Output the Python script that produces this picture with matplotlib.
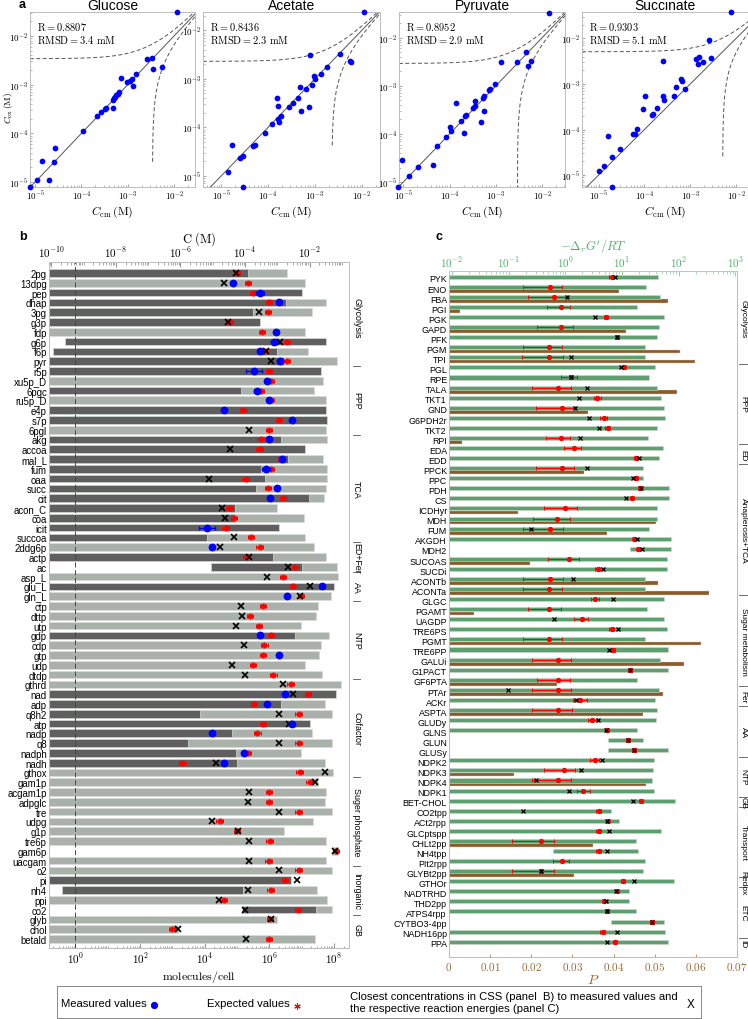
import numpy as np
import matplotlib
matplotlib.use('Agg')
import matplotlib.pyplot as plt
import matplotlib.transforms as mtransforms
from matplotlib.ticker import FixedLocator, LogLocator, NullFormatter, FuncFormatter

plt.rcParams['mathtext.fontset'] = 'cm'
plt.rcParams['font.family'] = ['Liberation Sans', 'DejaVu Sans']

nan = np.nan

# ---------------- panel a data (log10 of concentration in M) ----------------
glc_cm = [-1.93, -2.58, -2.48, -2.45, -2.27, -2.82, -3.14, -3.01, -2.96, -2.91, -2.88, -3.20, -3.22, -3.25, -3.28,
          -3.30, -3.32, -3.31, -3.48, -3.50, -3.58, -3.67, -3.97, -4.58, -4.59, -4.85, -4.69, -4.96, -5.11]
glc_ex = [-1.52, -2.47, -2.45, -2.68, -2.63, -2.78, -2.86, -2.94, -2.93, -2.89, -3.03, -3.16, -3.19, -3.22, -3.25,
          -3.28, -3.31, -3.48, -3.47, -3.50, -3.57, -3.65, -3.95, -4.30, -4.59, -4.57, -4.95, -4.96, -5.10]
ace_cm = [-1.96, -2.46, -2.26, -2.24, -3.11, -2.74, -2.88, -3.01, -3.00, -3.07, -3.18, -3.32, -3.36, -3.46, -3.55,
          -3.12, -3.29, -3.82, -3.79, -3.73, -3.79, -3.76, -3.91, -4.07, -4.29, -4.32, -4.76, -4.54, -4.59, -4.86, -4.53]
ace_ex = [-1.63, -2.48, -2.63, -2.65, -2.50, -2.76, -2.90, -2.94, -3.00, -3.12, -3.21, -3.16, -3.39, -3.50, -3.57,
          -3.59, -3.67, -3.39, -3.55, -3.77, -3.83, -3.88, -3.94, -4.12, -4.36, -4.39, -4.36, -4.59, -4.64, -4.92, -5.22]
pyr_cm = [-1.86, -2.35, -2.30, -2.24, -2.55, -2.88, -3.01, -3.12, -3.14, -3.26, -3.27, -3.25, -3.45, -3.49, -3.45,
          -3.32, -3.65, -3.67, -3.76, -3.86, -3.69, -3.99, -3.97, -4.08, -4.26, -4.35, -4.69, -4.88, -5.03, -5.11]
pyr_ex = [-1.49, -2.29, -2.58, -2.49, -2.51, -2.50, -2.97, -3.07, -3.09, -3.22, -3.25, -3.53, -3.42, -3.47, -3.31,
          -3.75, -3.60, -3.63, -3.74, -3.36, -3.99, -3.85, -3.94, -4.06, -4.24, -4.65, -4.68, -4.88, -4.54, -5.10]
suc_cm = [-2.12, -2.59, -2.80, -2.88, -2.84, -2.73, -2.55, -3.59, -3.31, -3.20, -3.18, -3.12, -3.36, -3.59, -3.57,
          -3.99, -4.04, -3.72, -3.82, -3.84, -4.15, -4.20, -4.25, -4.54, -4.71, -4.80, -4.89, -5.00, -4.71]
suc_ex = [-1.43, -2.04, -2.41, -2.46, -2.56, -2.52, -2.43, -2.50, -3.06, -2.90, -2.93, -3.11, -3.27, -3.26, -3.35,
          -3.26, -3.55, -3.52, -3.66, -3.68, -3.99, -4.09, -4.09, -4.42, -4.60, -4.14, -4.79, -4.91, -5.26]
substrates = ['Glucose', 'Acetate', 'Pyruvate', 'Succinate']
r_values = [0.8807, 0.8436, 0.8952, 0.9303]
rmsd_mM = [3.4, 2.3, 2.9, 5.1]

# ---------------- panel b data (log10 C in M) ----------------
mets = ['2pg', '13dpg', 'pep', 'dhap', '3pg', 'g3p', 'fdp', 'g6p', 'f6p', 'pyr',
        'r5p', 'xu5p_D', '6pgc', 'ru5p_D', 'e4p', 's7p', '6pgl',
        'akg', 'accoa', 'mal_L', 'fum', 'oaa', 'succ', 'cit', 'acon_C', 'coa', 'icit', 'succoa',
        '2ddg6p', 'actp', 'ac',
        'asp_L', 'glu_L', 'gln_L',
        'ctp', 'dttp', 'utp', 'gdp', 'cdp', 'gtp', 'udp', 'dtdp',
        'gthrd', 'nad', 'adp', 'q8h2', 'atp', 'nadp', 'q8', 'nadph', 'nadh', 'gthox',
        'gam1p', 'acgam1p', 'adpglc', 'tre', 'udpg', 'g1p', 'tre6p', 'gam6p', 'uacgam',
        'o2', 'pi', 'nh4', 'ppi', 'co2',
        'glyb', 'chol', 'betald']
groups_b = [('Glycolysis', 0, 9), ('PPP', 10, 16), ('TCA', 17, 27), ('ED+Fer', 28, 30), ('AA', 31, 33),
            ('NTP', 34, 41), ('Cofactor', 42, 51), ('Suger phosphate', 52, 60), ('Inorganic', 61, 65),
            ('GB', 66, 68)]
lo_b = [-10.1] * 7 + [-9.57, -9.95] + [-10.1] * 21 + [-5.05] + [-10.1] * 28 + [-1.31] + [-10.1] * 3 + [-9.68, -10.1, -4.09] + [-10.1] * 3
dark_b = [-3.91, nan, -2.23, -2.72, -3.76, -3.55, nan, -1.49, -3.0, -2.80,
          -1.64, nan, -4.12, nan, -1.49, -1.45, nan,
          -2.90, -2.13, -2.67, -3.52, -3.37, -3.67, -2.03, -4.30, -4.30, -2.95, -5.18,
          nan, -3.12, -2.23,
          nan, -1.23, nan,
          nan, nan, nan, -2.45, nan, nan, nan, nan,
          nan, -1.18, -2.88, -5.38, -2.0, -4.40, -5.77, -4.29, -4.24, nan,
          nan, nan, nan, nan, nan, nan, nan, nan, nan,
          nan, -2.59, -4.07, nan, -1.80,
          nan, nan, nan]
light_b = [-2.69, -2.13, nan, -1.49, -1.93, nan, -2.13, nan, -2.05, -1.16,
           nan, -1.59, -1.87, -1.49, nan, nan, -1.49,
           -1.45, nan, -1.57, -1.45, -1.45, -1.49, -1.54, -3.0, -2.18, nan, -2.14,
           -1.87, -1.49, -1.16,
           -1.13, nan, -1.33,
           -1.74, -1.80, -2.26, -1.41, -1.64, -1.72, -2.13, -1.61,
           -1.02, nan, -1.52, -1.31, nan, -1.93, -1.31, -2.26, -1.52, -1.28,
           -1.74, -1.49, -1.51, -1.31, -1.90, -2.80, -1.49, -1.13, -1.49,
           -1.31, nan, -1.76, -1.45, -1.31,
           -3.01, -6.06, -1.82]
meas_b = [nan, -4.38, -3.53, -2.96, nan, nan, -3.03, -3.11, -3.55, -2.93,
          -3.73, -3.31, -3.63, -3.26, -4.65, -2.54, nan,
          -3.27, nan, -2.85, -3.34, nan, -3.0, -3.22, nan, nan, -5.17, nan,
          -5.03, nan, nan,
          nan, -1.61, -2.70,
          nan, nan, nan, -3.55, nan, -2.95, nan, nan,
          nan, -2.76, -3.31, nan, -2.55, -5.03, nan, -4.04, -4.65, nan,
          nan, nan, nan, nan, nan, nan, nan, nan, nan,
          nan, nan, nan, nan, nan,
          nan, nan, nan]
meas_err = [0.04, 0.04, 0.12, 0.04, 0.04, 0.04, 0.04, 0.04, 0.04, 0.04,
            0.25, 0.04, 0.10, 0.04, 0.04, 0.04, 0.04,
            0.04, 0.04, 0.04, 0.12, 0.04, 0.04, 0.04, 0.04, 0.04, 0.25, 0.04] + [0.04] * 41
exp_b = [-4.25, -3.91, -3.76, -3.26, -3.28, -4.48, -3.48, -2.70, -3.40, -2.70,
         -3.26, -3.19, -3.50, -3.19, -4.05, -2.95, -3.26,
         -3.52, -3.55, -2.87, -3.19, -3.98, -3.29, -2.81, -4.48, -4.34, -4.60, -3.81,
         -3.55, -3.96, -2.44,
         -2.83, -2.50, -2.26,
         -3.45, -3.84, -3.57, -3.19, -3.40, -3.45, -3.76, -3.12,
         -2.59, -2.05, -3.73, -2.34, -3.45, -3.62, -2.34, -3.91, -5.94, -2.31,
         -2.0, -3.26, -3.26, -2.34, -4.79, -4.25, -3.24, -1.18, -3.27,
         -2.34, -2.76, -3.21, -4.66, -2.36,
         -3.22, -6.26, -3.26]
exp_err = 0.1
close_b = [-4.27, -4.65, nan, nan, -3.57, -4.52, nan, -2.93, -3.36, -3.21,
           nan, nan, nan, nan, nan, nan, -3.88,
           nan, -4.48, nan, nan, -5.10, nan, nan, -4.71, -4.63, nan, -4.34,
           -4.77, -3.88, -2.67,
           -3.31, -1.98, -2.31,
           -4.12, -4.10, -4.29, nan, -4.04, nan, -4.40, -4.0,
           -2.83, -2.50, nan, -2.95, -2.64, nan, -2.95, nan, -4.91, -1.52,
           -1.82, -3.88, -3.90, -2.95, -5.03, -4.22, -3.88, -1.21, -3.88,
           -2.96, -2.38, -3.91, -4.81, -4.0,
           -3.19, -6.08, -3.96]
one_molecule = 10 ** -9.25  # M per molecule/cell

# ---------------- panel c data ----------------
rxns = ['PYK', 'ENO', 'FBA', 'PGI', 'PGK', 'GAPD', 'PFK', 'PGM', 'TPI',
        'PGL', 'RPE', 'TALA', 'TKT1', 'GND', 'G6PDH2r', 'TKT2', 'RPI',
        'EDA', 'EDD',
        'PPCK', 'PPC', 'PDH', 'CS', 'ICDHyr', 'MDH', 'FUM', 'AKGDH', 'MDH2', 'SUCOAS', 'SUCDi', 'ACONTb', 'ACONTa',
        'GLGC', 'PGAMT', 'UAGDP', 'TRE6PS', 'PGMT', 'TRE6PP', 'GALUi', 'G1PACT', 'GF6PTA',
        'PTAr', 'ACKr',
        'ASPTA', 'GLUDy', 'GLNS', 'GLUN', 'GLUSy',
        'NDPK2', 'NDPK3', 'NDPK4', 'NDPK1',
        'BET-CHOL',
        'CO2tpp', 'ACt2rpp', 'GLCptspp', 'CHLt2pp', 'NH4tpp', 'PIt2rpp', 'GLYBt2pp',
        'GTHOr',
        'NADTRHD', 'THD2pp', 'ATPS4rpp', 'CYTBO3-4pp', 'NADH16pp',
        'PPA']
groups_c = [('Glycolysis', 0, 8), ('PPP', 9, 16), ('ED', 17, 18), ('Anaplerosis+TCA', 19, 31),
            ('Sugar metabolism', 32, 40), ('Fer', 41, 42), ('AA', 43, 47), ('NTP', 48, 51), ('GB', 52, 52),
            ('Transport', 53, 59), ('Redox', 60, 60), ('ETC', 61, 65), ('ID', 66, 66)]
# log10(-dG/RT) ranges
dg_lo = [-2.1] * 27 + [1.15] + [-2.1] * 18 + [0.75, 0.75] + [-2.1] * 9 + [-0.22] + [-2.1] * 6 + [0.81, -2.1, -2.1]
dg_hi = [1.64, 1.42, 1.68, 1.26, 1.74, 1.66, 1.62, 1.40, 1.41,
         1.59, 1.47, 1.62, 1.69, 1.75, 1.76, 1.62, 1.46,
         1.72, 1.66,
         1.38, 1.38, 1.83, 1.83, 1.62, 1.62, 1.48, 1.86, 1.87, 1.79, 1.79, 1.40, 1.40,
         1.74, 1.44, 1.74, 1.79, 1.40, 1.81, 1.68, 1.81, 1.26,
         1.65, 1.59,
         1.62, 1.61, 1.26, 1.38, 1.81,
         1.57, 1.55, 1.53, 1.57,
         1.94,
         0.81, 0.95, 1.69, 1.24, 1.28, 1.41, 1.38,
         1.92,
         1.13, 1.13, 1.25, 1.74, 1.76,
         1.82]
p_val = [nan, 0.0414, 0.0533, 0.0027, nan, 0.0429, nan, 0.0561, 0.0598,
         nan, nan, 0.0553, nan, 0.0339, nan, nan, 0.0032,
         nan, nan,
         0.0327, nan, nan, nan, 0.0167, 0.0502, 0.0383, nan, nan, 0.0197, nan, 0.0509, 0.0633,
         nan, 0.0061, nan, nan, 0.0612, nan, 0.0570, nan, 0.0263,
         0.0519, nan,
         0.0471, nan, nan, nan, nan,
         nan, 0.0159, 0.0480, nan,
         nan,
         nan, nan, nan, 0.0349, nan, nan, 0.0304,
         nan,
         nan, nan, nan, nan, nan,
         nan]
exp_c = [0.82, -0.26, -0.19, -0.07, 0.72, -0.08, 0.91, -0.28, -0.28,
         1.04, 0.10, -0.13, 0.56, -0.06, 0.68, 0.75, -0.08,
         0.15, 1.25,
         -0.06, 1.25, 1.32, 1.18, -0.01, -0.14, -0.26, 1.22, 1.29, 0.06, 0.58, -0.26, -0.28,
         0.53, -0.28, 0.29, 0.82, -0.28, 0.84, -0.13, 1.15, -0.13,
         -0.13, 0.26,
         -0.12, 0.48, 0.74, 1.10, 1.21,
         0.52, -0.03, -0.13, 0.32,
         1.34,
         0.59, 0.75, 0.59, -0.42, 0.59, -0.06, -0.42,
         1.02,
         0.91, 0.69, 0.73, 1.53, 0.66,
         0.88]
exp_c_lo = [0.78, -0.75, -0.66, -0.32, 0.68, -0.50, 0.88, -0.75, -0.76,
            1.01, -0.07, -0.59, 0.50, -0.52, 0.62, 0.71, -0.34,
            -0.03, 1.22,
            -0.52, 1.22, 1.29, 1.15, -0.38, -0.56, -0.74, 1.19, 1.26, -0.31, 0.52, -0.75, -0.75,
            0.45, -0.66, 0.16, 0.78, -0.75, 0.80, -0.59, 1.12, -0.50,
            -0.59, 0.14,
            -0.59, 0.40, 0.70, 1.07, 1.18,
            0.44, -0.37, -0.59, 0.21,
            1.31,
            0.55, 0.72, 0.55, -0.94, 0.55, -0.21, -0.94,
            0.98,
            0.88, 0.65, 0.70, 1.50, 0.62,
            0.85]
exp_c_hi = [0.86, -0.05, 0.03, 0.09, 0.76, 0.14, 0.94, -0.06, -0.04,
            1.07, 0.21, 0.10, 0.63, 0.18, 0.74, 0.79, 0.09,
            0.28, 1.28,
            0.16, 1.28, 1.35, 1.21, 0.21, 0.08, -0.04, 1.25, 1.32, 0.25, 0.62, -0.04, -0.06,
            0.60, -0.08, 0.41, 0.86, -0.06, 0.88, 0.10, 1.18, 0.08,
            0.10, 0.38,
            0.12, 0.56, 0.78, 1.13, 1.24,
            0.60, 0.18, 0.10, 0.43,
            1.37,
            0.63, 0.78, 0.63, -0.19, 0.63, 0.06, -0.19,
            1.06,
            0.94, 0.73, 0.76, 1.56, 0.70,
            0.92]
close_c = [0.88, nan, 0.04, nan, 0.53, nan, 0.92, nan, 0.10,
           0.98, 0.10, 0.39, 0.25, 0.18, 0.42, 0.59, 0.26,
           nan, 1.31,
           0.39, 1.19, 1.34, 1.08, nan, nan, -0.61, 1.26, 1.35, nan, 0.66, 0.13, nan,
           0.85, nan, -0.19, 0.93, nan, 0.77, nan, 1.15, nan,
           -1.01, 0.19,
           nan, 0.58, 0.72, 1.10, 1.22,
           0.65, 0.27, -0.51, 0.07,
           1.19,
           -0.74, 0.74, 0.78, nan, 0.74, nan, -0.42,
           1.22,
           0.89, 0.72, 0.73, 1.53, 0.91,
           0.74]

# ---------------- styling ----------------
LIGHT = '#a9b1aa'
DARK = '#5f5f5f'
GREEN = '#5e9f6f'
BROWN = '#8a5a2b'
GREEN_TXT = '#4cb06a'
BROWN_TXT = '#9a6a34'
SPINE = '#bdbdbd'
W, H = 748, 1020


def box(l, t, r, b):
    return [l / W, 1 - b / H, (r - l) / W, (b - t) / H]


def pow10(v, pos):
    return r'$10^{%d}$' % int(round(np.log10(v)))


def style_spines(ax, color=SPINE):
    for s in ax.spines.values():
        s.set_color(color)
        s.set_linewidth(0.7)


fig = plt.figure(figsize=(W / 100, H / 100), dpi=100)

# ---------------- panel a ----------------
a_cols = [(30, 195), (203, 380), (399, 565), (582, 748)]
a_xlim = [(-5.11, -1.55), (-5.39, -1.61), (-5.09, -1.51), (-5.36, -1.74)]
a_ylim = [(-5.10, -1.51), (-5.23, -1.62), (-5.10, -1.47), (-5.26, -1.42)]
a_data = [(glc_cm, glc_ex), (ace_cm, ace_ex), (pyr_cm, pyr_ex), (suc_cm, suc_ex)]

for i, name in enumerate(substrates):
    l, r = a_cols[i]
    ax = fig.add_axes(box(l, 13, r, 188))
    ax.set_xscale('log')
    ax.set_yscale('log')
    x0, x1 = a_xlim[i]
    y0, y1 = a_ylim[i]
    ax.set_xlim(10 ** x0, 10 ** x1)
    ax.set_ylim(10 ** y0, 10 ** y1)
    xx = np.logspace(x0, x1 + 0.2, 500)
    rm = rmsd_mM[i] * 1e-3
    ax.plot(xx, xx, color='#555555', lw=0.7)
    ax.plot(xx, xx + rm, color='#555555', lw=0.7, ls=(0, (4, 2.5)))
    low = xx - rm
    m = low > 0
    ax.plot(xx[m], low[m], color='#555555', lw=0.7, ls=(0, (4, 2.5)))
    cm, ex = a_data[i]
    ax.scatter(10 ** np.array(cm), 10 ** np.array(ex), s=17, color='blue', zorder=3, clip_on=False,
               linewidths=0)
    ax.xaxis.set_major_formatter(FuncFormatter(pow10))
    ax.yaxis.set_major_formatter(FuncFormatter(pow10))
    ax.xaxis.set_minor_formatter(NullFormatter())
    ax.yaxis.set_minor_formatter(NullFormatter())
    ax.tick_params(which='both', direction='in', color='#aaaaaa', labelsize=6.5, pad=1.2)
    ax.tick_params(which='major', length=2.5)
    ax.tick_params(which='minor', length=1.2)
    style_spines(ax)
    ax.set_title(name, fontsize=10, pad=2)
    ax.set_xlabel(r'$C_{\rm cm}\,(\rm M)$', fontsize=8.5, labelpad=1)
    if i == 0:
        ax.set_ylabel(r'$C_{\rm ex}\,(\rm M)$', fontsize=6.8)
        ax.yaxis.set_label_coords(-0.09, 0.455)
    ax.text(0.04, 0.92, r'$\mathrm{R} = %.4f$' % r_values[i], transform=ax.transAxes, fontsize=7.5,
            va='center')
    ax.text(0.04, 0.845, r'$\mathrm{RMSD} = %.1f\ \mathrm{mM}$' % rmsd_mM[i], transform=ax.transAxes,
            fontsize=7.5, va='center')

fig.text(22 / W, 1 - 5 / H, 'a', fontsize=9, weight='bold', va='center', ha='center')
fig.text(23 / W, 1 - 237 / H, 'b', fontsize=9, weight='bold', va='center', ha='center')
fig.text(439 / W, 1 - 237 / H, 'c', fontsize=9, weight='bold', va='center', ha='center')

# ---------------- panel b ----------------
axb = fig.add_axes(box(49, 263, 349, 949))
axb.set_xscale('log')
axb.set_xlim(10 ** -10.07, 10 ** -0.78)
nb = len(mets)
rows_b = np.arange(nb)
axb.set_ylim(68.92, -1.12)

lo = 10 ** np.array(lo_b)
for hi_arr, col in [(light_b, LIGHT), (dark_b, DARK)]:
    hi = np.array(hi_arr)
    m = ~np.isnan(hi)
    axb.barh(rows_b[m], 10 ** hi[m] - lo[m], left=lo[m], height=0.78, color=col,
             edgecolor='#d9dcd9', linewidth=0.5, zorder=1)

axb.axvline(one_molecule, color='#444444', lw=0.7, ls=(0, (5, 3)), zorder=2)

ev = np.array(exp_b)
axb.errorbar(10 ** ev, rows_b, xerr=[10 ** ev - 10 ** (ev - exp_err), 10 ** (ev + exp_err) - 10 ** ev],
             fmt='o', mfc='none', mec='red', ecolor='red', ms=3.6, mew=0.7, elinewidth=0.7,
             capsize=1.6, capthick=0.7, zorder=4)
axb.plot(10 ** ev, rows_b, ls='none', marker=(6, 2, 0), color='red', ms=3.6, mew=0.6, zorder=4)

cv = np.array(close_b)
axb.plot(10 ** cv, rows_b, ls='none', marker='x', color='black', ms=4.8, mew=1.2, zorder=5)

mv = np.array(meas_b)
me = np.array(meas_err)
mm = ~np.isnan(mv)
axb.errorbar(10 ** mv[mm], rows_b[mm],
             xerr=[10 ** mv[mm] - 10 ** (mv[mm] - me[mm]), 10 ** (mv[mm] + me[mm]) - 10 ** mv[mm]],
             fmt='o', color='blue', ms=4.6, elinewidth=0.9, capsize=1.5, zorder=6)

axb.set_yticks(rows_b)
axb.set_yticklabels(mets, fontsize=6.9)
axb.tick_params(axis='y', length=0, pad=1.5)
axb.xaxis.tick_top()
axb.xaxis.set_label_position('top')
axb.xaxis.set_major_locator(FixedLocator([10.0 ** k for k in range(-10, -1, 2)]))
axb.xaxis.set_minor_locator(LogLocator(base=10, subs=np.arange(1, 10), numticks=40))
axb.xaxis.set_major_formatter(FuncFormatter(pow10))
axb.xaxis.set_minor_formatter(NullFormatter())
axb.tick_params(axis='x', which='both', direction='in', color='#999999', labelsize=8, pad=2)
axb.tick_params(axis='x', which='major', length=3.5)
axb.tick_params(axis='x', which='minor', length=1.8)
axb.set_xlabel(r'$\mathrm{C\ (M)}$', fontsize=9, labelpad=2)
style_spines(axb)

sec = axb.secondary_xaxis('bottom', functions=(lambda c: c / one_molecule, lambda n: n * one_molecule))
sec.set_xticks([1, 1e2, 1e4, 1e6, 1e8])
sec.xaxis.set_minor_locator(LogLocator(base=10, subs=np.arange(1, 10), numticks=40))
sec.xaxis.set_major_formatter(FuncFormatter(pow10))
sec.xaxis.set_minor_formatter(NullFormatter())
sec.tick_params(which='both', direction='in', color='#999999', labelsize=8, pad=2)
sec.tick_params(which='major', length=3.5)
sec.tick_params(which='minor', length=1.8)
sec.set_xlabel(r'$\mathrm{molecules/cell}$', fontsize=8.5, labelpad=2)
for s in sec.spines.values():
    s.set_color(SPINE)

trb = mtransforms.blended_transform_factory(axb.transAxes, axb.transData)
for k, (gname, g0, g1) in enumerate(groups_b):
    axb.text(1.026, (g0 + g1) / 2, gname, transform=trb, rotation=-90, ha='center', va='center',
             fontsize=6.4, clip_on=False)
    if k > 0:
        axb.plot([1.012, 1.036], [g0 - 0.5, g0 - 0.5], transform=trb, color='#555555', lw=0.6,
                 clip_on=False)

# ---------------- panel c ----------------
axp = fig.add_axes(box(449, 272, 737, 958))
axp.set_xlim(0, 0.07)
nc = len(rxns)
rows_c = np.arange(nc)
axp.set_ylim(67.4, -0.69)
axg = axp.twiny()
axg.set_xscale('log')
axg.set_xlim(10 ** -2.05, 10 ** 3.03)

glo = 10 ** np.array(dg_lo)
ghi = 10 ** np.array(dg_hi)
axg.barh(rows_c - 0.12, ghi - glo, left=glo, height=0.40, color=GREEN, edgecolor='#cfd8cf',
         linewidth=0.4, zorder=1)
pv = np.array(p_val)
pm = ~np.isnan(pv)
axp.barh(rows_c[pm] + 0.29, pv[pm], left=0, height=0.36, color=BROWN, edgecolor='#d8cfc5',
         linewidth=0.3, zorder=1)

ec = np.array(exp_c)
axg.errorbar(10 ** ec, rows_c - 0.12,
             xerr=[10 ** ec - 10 ** np.array(exp_c_lo), 10 ** np.array(exp_c_hi) - 10 ** ec],
             fmt='o', color='red', ms=2.8, elinewidth=0.7, capsize=1.6, capthick=0.7, zorder=4)
axg.plot(10 ** np.array(close_c), rows_c - 0.12, ls='none', marker='x', color='black', ms=3,
         mew=0.9, zorder=5)

axp.set_yticks(rows_c)
axp.set_yticklabels(rxns, fontsize=6.4)
axp.tick_params(axis='y', length=0, pad=1.5)
axp.set_xticks(np.arange(0, 0.0701, 0.01))
axp.xaxis.set_major_formatter(FuncFormatter(lambda v, p: r'$0$' if abs(v) < 1e-9 else r'$%.2f$' % v))
axp.tick_params(axis='x', direction='in', color='#b89a7a', labelcolor=BROWN_TXT, labelsize=8, length=2.5,
                pad=2)
axp.set_xlabel(r'$P$', color=BROWN_TXT, fontsize=10, labelpad=0)

axg.xaxis.set_major_locator(FixedLocator([10.0 ** k for k in range(-2, 4)]))
axg.xaxis.set_minor_locator(LogLocator(base=10, subs=np.arange(1, 10), numticks=40))
axg.xaxis.set_major_formatter(FuncFormatter(pow10))
axg.xaxis.set_minor_formatter(NullFormatter())
axg.tick_params(axis='x', which='both', direction='in', color='#9fd1ad', labelcolor=GREEN_TXT,
                labelsize=8, pad=1.5)
axg.tick_params(axis='x', which='major', length=3.5)
axg.tick_params(axis='x', which='minor', length=1.8)
axg.set_xlabel(r"$-\Delta_r G'/RT$", color=GREEN_TXT, fontsize=9, labelpad=4)
style_spines(axp)
style_spines(axg)
axg.spines['top'].set_color('#a9d8b6')

trc = mtransforms.blended_transform_factory(axp.transAxes, axp.transData)
for k, (gname, g0, g1) in enumerate(groups_c):
    axp.text(1.021, (g0 + g1) / 2, gname, transform=trc, rotation=-90, ha='center', va='center',
             fontsize=6.0, clip_on=False)
    if k > 0:
        axp.plot([1.008, 1.034], [g0 - 0.5, g0 - 0.5], transform=trc, color='#555555', lw=0.6,
                 clip_on=False)

# ---------------- legend box ----------------
lg = fig.add_axes(box(57, 987, 701, 1019))
lg.set_xlim(57, 701)
lg.set_ylim(0, 1)
lg.set_xticks([])
lg.set_yticks([])
style_spines(lg, '#888888')
lg.text(61, 0.47, 'Measured values', fontsize=8.1, va='center')
lg.plot(154, 0.42, 'o', color='blue', ms=4.2)
lg.text(207, 0.47, 'Expected values', fontsize=8.1, va='center')
lg.plot(297, 0.38, marker=(6, 2, 0), color='red', ms=4.5, mew=0.8)
lg.text(350, 0.5, 'Closest concentrations in CSS (panel  B) to measured values and\n'
                  'the respective reaction energies (panel C)', fontsize=8.1, va='center', linespacing=1.3)
lg.text(691, 0.45, 'X', fontsize=8.5, va='center', ha='center')

fig.savefig('out.png', dpi=100)
